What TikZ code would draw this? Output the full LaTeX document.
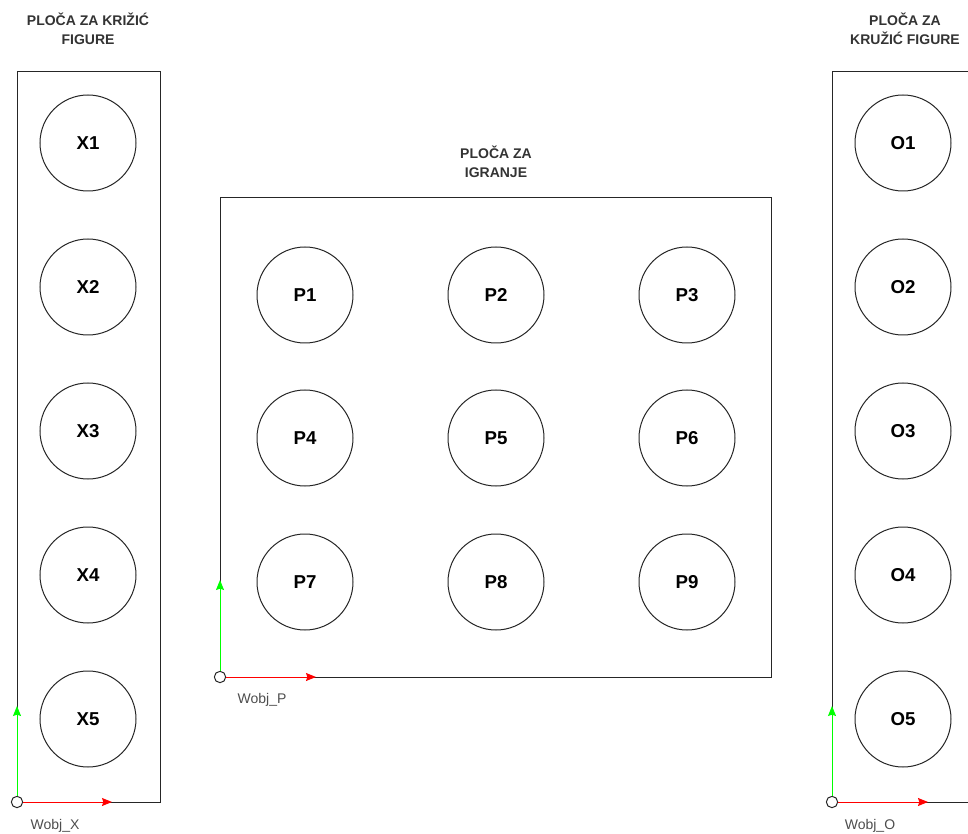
\documentclass[tikz,border=0pt]{standalone}
\usepackage{fontspec}
\setmainfont{Liberation Sans}
\usetikzlibrary{arrows.meta}
\definecolor{labgray}{HTML}{4D4D4D}
\definecolor{axgreen}{HTML}{00FF00}
\definecolor{axred}{HTML}{FF0000}
\tikzset{
  slot/.style={draw=black!85, line width=0.75pt, circle, minimum size=72pt, inner sep=0pt, font=\fontsize{14pt}{16pt}\selectfont\bfseries},
  board/.style={draw=black!85, line width=0.75pt},
  title/.style={align=center, font=\fontsize{10.5pt}{14pt}\selectfont\bfseries, text=black!80},
  wlabel/.style={font=\fontsize{10.5pt}{12pt}\selectfont, text=labgray},
  origin/.style={circle, draw=black!85, fill=white, line width=0.75pt, minimum size=8.5pt, inner sep=0pt},
  xaxis/.style={draw=axred, line width=0.75pt, -{Stealth[length=7.5pt,width=6pt,inset=1pt]}},
  yaxis/.style={draw=axgreen, line width=0.75pt, -{Stealth[length=7.5pt,width=6pt,inset=1pt]}},
}
\begin{document}
\begin{tikzpicture}[x=0.75pt,y=-0.75pt]
\useasboundingbox (0,0) rectangle (968,834);
\clip (0,0) rectangle (968,834);
% boards
\draw[board] (17,72) rectangle (160,802);
\draw[board] (220,198) rectangle (771,677);
\draw[board] (832,72) rectangle (980,802);
% titles
\node[title] (tx) at (88,29) {PLOČA ZA KRIŽIĆ\\FIGURE};
\node[title] (tp) at (496,162) {PLOČA ZA\\IGRANJE};
\node[title] (to) at (905,29) {PLOČA ZA\\KRUŽIĆ FIGURE};
% X and O slots
\foreach \i/\y in {1/143,2/287,3/431,4/575,5/719} {
  \node[slot] (X\i) at (88,\y) {X\i};
  \node[slot] (O\i) at (903,\y) {O\i};
}
% P slots
\node[slot] (P1) at (305,295) {P1};
\node[slot] (P2) at (496,295) {P2};
\node[slot] (P3) at (687,295) {P3};
\node[slot] (P4) at (305,438) {P4};
\node[slot] (P5) at (496,438) {P5};
\node[slot] (P6) at (687,438) {P6};
\node[slot] (P7) at (305,582) {P7};
\node[slot] (P8) at (496,582) {P8};
\node[slot] (P9) at (687,582) {P9};
% origins and axes
\node[origin] (ox) at (17,802) {};
\coordinate (oxx) at (112,802);
\coordinate (oxy) at (17,706);
\draw[xaxis] (ox) -- (oxx);
\draw[yaxis] (ox) -- (oxy);
\node[wlabel] (wx) at (55,826) {Wobj\_X};

\node[origin] (op) at (220,677) {};
\coordinate (opx) at (316,677);
\coordinate (opy) at (220,580);
\draw[xaxis] (op) -- (opx);
\draw[yaxis] (op) -- (opy);
\node[wlabel] (wp) at (262,700) {Wobj\_P};

\node[origin] (oo) at (832,802) {};
\coordinate (oox) at (928,802);
\coordinate (ooy) at (832,706);
\draw[xaxis] (oo) -- (oox);
\draw[yaxis] (oo) -- (ooy);
\node[wlabel] (wo) at (870,826) {Wobj\_O};
\end{tikzpicture}
\end{document}
